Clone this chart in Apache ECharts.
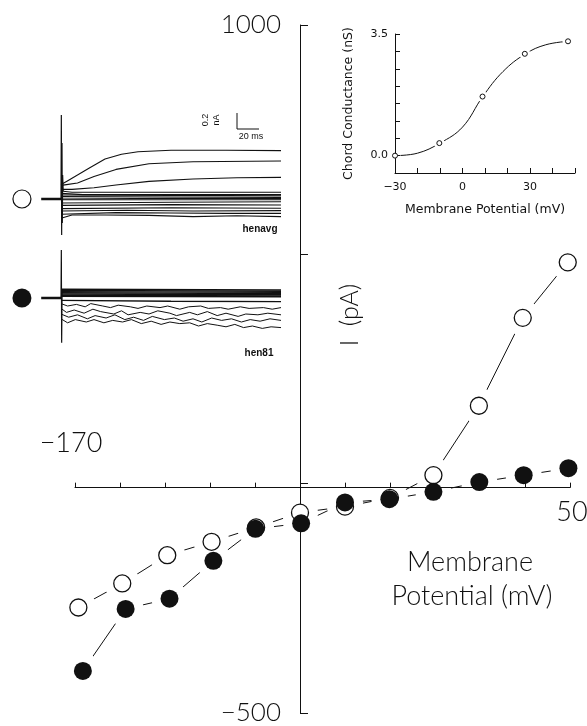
<!DOCTYPE html>
<html style="height:100%">
<head>
<meta charset="utf-8" />
<title>I-V relation</title>
<script src="https://cdn.jsdelivr.net/npm/echarts@6.0.0/dist/echarts.min.js"></script>
</head>
<body style="margin:0;height:100%;width:100%;background:#fff">
<div id="chartmain" style="width:587px;height:726px;"></div>
<script type="text/javascript">

    // main I-V plot (mV, pA)
    var voltageOpen   = [-168.5, -149, -129, -109.3, -89.5, -70, -50, -30, -10.7, 9.5, 29, 49];
    var currentOpen   = [-259, -207, -146, -117, -86, -54, -41, -22, 27, 177, 367, 487];
    var voltageFilled = [-166.5, -147.5, -128, -108.5, -89.8, -69.5, -50, -30.3, -10.7, 9.7, 29.4, 49.3];
    var currentFilled = [-396, -262, -240, -158, -89, -77, -32, -25, -9, 12, 27, 42];
    var ivTicks = [-170, -150, -130, -110, -90, -70, -50, -30, -10, 10, 30, 50];

    // inset: chord conductance (mV, nS)
    var gVoltage = [-30, -10.3, 8.9, 27.7, 46.9];
    var gValue   = [0.0, 0.36, 1.70, 2.93, 3.29];
    var gCurveV  = [-30, -20, -10, 0, 9, 18, 28, 37, 47];
    var gCurveG  = [0, 0.07, 0.36, 0.82, 1.7, 2.42, 2.93, 3.19, 3.29];

    // current traces (ms, nA relative to holding level)
    var avgTraces = [
        [[0,0.18],[5,0.22],[15,0.3],[25,0.38],[40,0.5],[55,0.56],[70,0.59],[100,0.61],[150,0.61],[200,0.605]],
        [[0,0.17],[5,0.18],[15,0.2],[30,0.28],[50,0.37],[80,0.44],[120,0.465],[200,0.475]],
        [[0,0.12],[10,0.12],[30,0.14],[50,0.175],[80,0.22],[120,0.25],[160,0.265],[200,0.27]],
        [[0,0.1],[10,0.085],[60,0.085],[200,0.085]],
        [[0,0.07],[20,0.055],[200,0.055]],
        [[0,0.05],[100,0.045],[200,0.04]],
        [[0,0.03],[100,0.025],[200,0.02]],
        [[0,0.0],[100,0.01],[200,0.005]],
        [[0,-0.01],[200,-0.01]],
        [[0,-0.05],[100,-0.04],[200,-0.035]],
        [[0,-0.08],[100,-0.07],[200,-0.075]],
        [[0,-0.12],[100,-0.11],[200,-0.115]],
        [[0,-0.15],[60,-0.14],[120,-0.15],[200,-0.145]],
        [[0,-0.19],[50,-0.17],[100,-0.175],[150,-0.18],[200,-0.18]],
        [[0,-0.24],[10,-0.2],[40,-0.2],[80,-0.205],[120,-0.22],[160,-0.21],[200,-0.22]]
    ];
    var avgSpike = [[0,0],[0.3,1.05],[0.6,-0.45],[0.9,0.7],[1.2,-0.3],[1.5,0.3],[2,0.1]];

    var h81Band = [
        [[0,0.11],[200,0.1]],
        [[0,0.095],[200,0.085]],
        [[0,0.08],[200,0.07]],
        [[0,0.065],[200,0.055]],
        [[0,0.05],[200,0.04]],
        [[0,0.035],[200,0.025]],
        [[0,0.02],[200,0.015]],
        [[0,-0.03],[100,-0.04],[200,-0.045]]
    ];
    var h81Noisy = [
        [[0,-0.07],[6,-0.1],[14,-0.08],[22,-0.11],[27,-0.07],[38,-0.1],[45,-0.12],[52,-0.09],[63,-0.11],[70,-0.13],[78,-0.1],[90,-0.12],[97,-0.1],[108,-0.14],[116,-0.11],[127,-0.1],[134,-0.13],[145,-0.12],[152,-0.14],[163,-0.11],[171,-0.13],[184,-0.12],[192,-0.14],[200,-0.12]],
        [[0,-0.13],[5,-0.18],[12,-0.15],[21,-0.19],[29,-0.14],[36,-0.17],[48,-0.2],[55,-0.16],[61,-0.21],[72,-0.18],[80,-0.2],[88,-0.16],[99,-0.19],[105,-0.22],[117,-0.18],[124,-0.21],[133,-0.17],[142,-0.22],[150,-0.19],[161,-0.23],[168,-0.2],[179,-0.21],[188,-0.19],[200,-0.21]],
        [[0,-0.2],[7,-0.24],[15,-0.21],[24,-0.26],[31,-0.22],[41,-0.25],[49,-0.21],[58,-0.27],[66,-0.24],[75,-0.28],[83,-0.23],[94,-0.27],[103,-0.25],[111,-0.29],[120,-0.26],[128,-0.3],[137,-0.25],[146,-0.28],[155,-0.26],[164,-0.3],[172,-0.27],[181,-0.29],[190,-0.26],[200,-0.28]],
        [[0,-0.26],[6,-0.31],[13,-0.27],[23,-0.3],[30,-0.27],[39,-0.31],[47,-0.28],[56,-0.3],[64,-0.27],[73,-0.32],[82,-0.29],[91,-0.33],[99,-0.3],[108,-0.32],[117,-0.31],[125,-0.35],[133,-0.32],[142,-0.34],[150,-0.36],[158,-0.33],[166,-0.37],[174,-0.35],[183,-0.38],[191,-0.36],[200,-0.37]]
    ];
    var h81Spike = [[0,0],[0.3,0.6],[0.6,-0.56],[1,0.1]];

    var holdLine = [[-18,0],[0,0]];
    var markerPos = [[-35.5,0]];
    var scaleBar = [[160,1.075],[160,0.875],[180,0.875]];

    var INK = '#111';
    var FONT = 'Liberation Sans, Arial, sans-serif';
    var THIN = '300 27px Lato, "Liberation Sans", sans-serif';
    var INSET_FONT = 'DejaVu Sans';

    function pairs(xs, ys){
        var out = [];
        for(var i=0;i<xs.length;i++){ out.push([xs[i], ys[i]]); }
        return out;
    }

    function traceSeries(data, grid, width){
        return {
            type:'line', xAxisIndex:grid, yAxisIndex:grid, data:data,
            showSymbol:false, symbol:'none', silent:true, z:3,
            lineStyle:{color:INK, width:width}
        };
    }

    function init(){
        var myChart = echarts.init(document.getElementById('chartmain'), null, {renderer:'canvas'});

        var openPts = pairs(voltageOpen, currentOpen);
        var filledPts = pairs(voltageFilled, currentFilled);

        var series = [
            {type:'line', xAxisIndex:0, yAxisIndex:0, data:openPts, showSymbol:false, symbol:'none', z:1, silent:true, lineStyle:{color:INK, width:1}},
            {type:'line', xAxisIndex:0, yAxisIndex:0, data:filledPts, showSymbol:false, symbol:'none', z:1, silent:true, lineStyle:{color:INK, width:1}},
            // white halo leaves a gap between line and circle
            {type:'scatter', xAxisIndex:0, yAxisIndex:0, data:openPts.concat(filledPts), symbolSize:36, z:2, silent:true, itemStyle:{color:'#fff', opacity:1}},
            {type:'scatter', xAxisIndex:0, yAxisIndex:0, data:openPts, symbolSize:17, z:5, silent:true, itemStyle:{color:'#fff', borderColor:INK, borderWidth:1.3, opacity:1}},
            {type:'scatter', xAxisIndex:0, yAxisIndex:0, data:filledPts, symbolSize:18, z:6, silent:true, itemStyle:{color:INK, opacity:1}},

            // conductance inset
            {type:'line', xAxisIndex:2, yAxisIndex:2, data:pairs(gCurveV, gCurveG), smooth:0.4, showSymbol:false, symbol:'none', z:1, silent:true, lineStyle:{color:INK, width:1}},
            {type:'scatter', xAxisIndex:2, yAxisIndex:2, data:pairs(gVoltage, gValue), symbolSize:11, z:2, silent:true, itemStyle:{color:'#fff', opacity:1}},
            {type:'scatter', xAxisIndex:2, yAxisIndex:2, data:pairs(gVoltage, gValue), symbol:'circle', symbolSize:5, z:5, silent:true, itemStyle:{color:'#fff', borderColor:INK, borderWidth:1, opacity:1}}
        ];

        avgTraces.forEach(function(t){ series.push(traceSeries(t, 3, 1.1)); });
        series.push(traceSeries(avgSpike, 3, 1.2));
        series.push(traceSeries(holdLine, 3, 2.5));
        series.push(traceSeries(scaleBar, 3, 1));
        series.push({type:'scatter', xAxisIndex:3, yAxisIndex:3, data:markerPos, symbolSize:18, z:5, silent:true, itemStyle:{color:'#fff', borderColor:INK, borderWidth:1.2, opacity:1}});

        h81Band.forEach(function(t){ series.push(traceSeries(t, 4, 1.4)); });
        h81Noisy.forEach(function(t){ series.push(traceSeries(t, 4, 1)); });
        series.push(traceSeries(h81Spike, 4, 1.2));
        series.push(traceSeries(holdLine, 4, 2.5));
        series.push({type:'scatter', xAxisIndex:4, yAxisIndex:4, data:markerPos, symbolSize:19, z:5, silent:true, itemStyle:{color:INK, opacity:1}});

        var option = {
            backgroundColor:'#fff',
            animation:false,
            textStyle:{fontFamily:FONT, color:INK},
            grid:[
                {left:75, top:25, width:495, height:694},
                {left:300, top:25, width:270, height:694},
                {left:395, top:34, width:180, height:139},
                {left:17, top:95, width:264, height:160},
                {left:17, top:238, width:264, height:116}
            ],
            xAxis:[
                {
                    // line sits on zero, ticks point upward
                    gridIndex:0, type:'value', min:-170, max:50, z:4, position:'top',
                    axisLine:{onZero:true, lineStyle:{color:INK, width:1}},
                    axisTick:{inside:false, length:5, customValues:ivTicks, lineStyle:{color:INK}},
                    axisLabel:{show:false},
                    splitLine:{show:false}
                },
                {gridIndex:1, type:'value', min:0, max:1, show:false},
                {
                    gridIndex:2, type:'value', min:-30, max:50, interval:10, z:4,
                    axisLine:{onZero:false, lineStyle:{color:INK, width:1}},
                    axisTick:{inside:true, length:5, lineStyle:{color:INK}},
                    axisLabel:{
                        margin:9, fontSize:11, fontFamily:INSET_FONT, color:INK,
                        formatter:function(v){ return v===-30 ? '\u221230' : (v===0 || v===30) ? String(v) : ''; }
                    },
                    splitLine:{show:false},
                    name:'Membrane Potential (mV)', nameLocation:'middle', nameGap:30,
                    nameTextStyle:{fontSize:12.5, fontFamily:INSET_FONT, color:INK}
                },
                {gridIndex:3, type:'value', min:-40, max:200, show:false},
                {gridIndex:4, type:'value', min:-40, max:200, show:false}
            ],
            yAxis:[
                {gridIndex:0, type:'value', min:-500, max:1000, show:false},
                {
                    gridIndex:1, type:'value', min:-500, max:1000, interval:500, position:'left', z:4,
                    axisLine:{show:true, lineStyle:{color:INK, width:1}},
                    axisTick:{show:true, inside:true, length:8, lineStyle:{color:INK}},
                    axisLabel:{
                        margin:19, fontSize:26, fontFamily:'Lato, Liberation Sans, sans-serif', fontWeight:300, color:INK,
                        formatter:function(v){ return v===1000 ? '1000' : v===-500 ? '\u2212500' : ''; }
                    },
                    splitLine:{show:false}
                },
                {
                    gridIndex:2, type:'value', min:-0.5, max:3.5, interval:0.5, z:4,
                    axisLine:{show:true, onZero:false, lineStyle:{color:INK, width:1}},
                    axisTick:{show:true, inside:true, length:5, lineStyle:{color:INK}},
                    axisLabel:{
                        margin:7, fontSize:11, fontFamily:INSET_FONT, color:INK,
                        formatter:function(v){ return Math.abs(v-3.5)<1e-6 ? '3.5' : Math.abs(v)<1e-6 ? '0.0' : ''; }
                    },
                    splitLine:{show:false},
                    name:'Chord Conductance (nS)', nameLocation:'middle', nameRotate:90, nameGap:40,
                    nameTextStyle:{fontSize:12.5, fontFamily:INSET_FONT, color:INK}
                },
                {gridIndex:3, type:'value', min:-0.7, max:1.3, show:false},
                {gridIndex:4, type:'value', min:-0.7, max:0.75, show:false}
            ],
            graphic:[
                {type:'text', x:71, y:443, style:{text:'\u2212170', font:THIN, fill:INK, align:'center', verticalAlign:'middle'}},
                {type:'text', x:572, y:512, style:{text:'50', font:THIN, fill:INK, align:'center', verticalAlign:'middle'}},
                {type:'text', x:470, y:562, style:{text:'Membrane', font:THIN, fill:INK, align:'center', verticalAlign:'middle'}},
                {type:'text', x:472, y:596, style:{text:'Potential (mV)', font:THIN, fill:INK, align:'center', verticalAlign:'middle'}},
                {type:'text', x:350, y:315, rotation:Math.PI/2, style:{text:'I  (pA)', font:'300 25px Lato, "Liberation Sans", sans-serif', fill:INK, align:'center', verticalAlign:'middle'}},
                // trace inset labels
                {type:'text', x:260, y:229, style:{text:'henavg', font:'bold 10px ' + FONT, fill:INK, align:'center', verticalAlign:'middle'}},
                {type:'text', x:259, y:353, style:{text:'hen81', font:'bold 10px ' + FONT, fill:INK, align:'center', verticalAlign:'middle'}},
                {type:'text', x:206, y:120, rotation:Math.PI/2, style:{text:'0.2', font:'9px ' + FONT, fill:INK, align:'center', verticalAlign:'middle'}},
                {type:'text', x:217, y:120, rotation:Math.PI/2, style:{text:'nA', font:'9px ' + FONT, fill:INK, align:'center', verticalAlign:'middle'}},
                {type:'text', x:251, y:137, style:{text:'20 ms', font:'9px ' + FONT, fill:INK, align:'center', verticalAlign:'middle'}}
            ],
            series:series
        };
        myChart.setOption(option);
    }

    init();
</script>
</body>
</html>
